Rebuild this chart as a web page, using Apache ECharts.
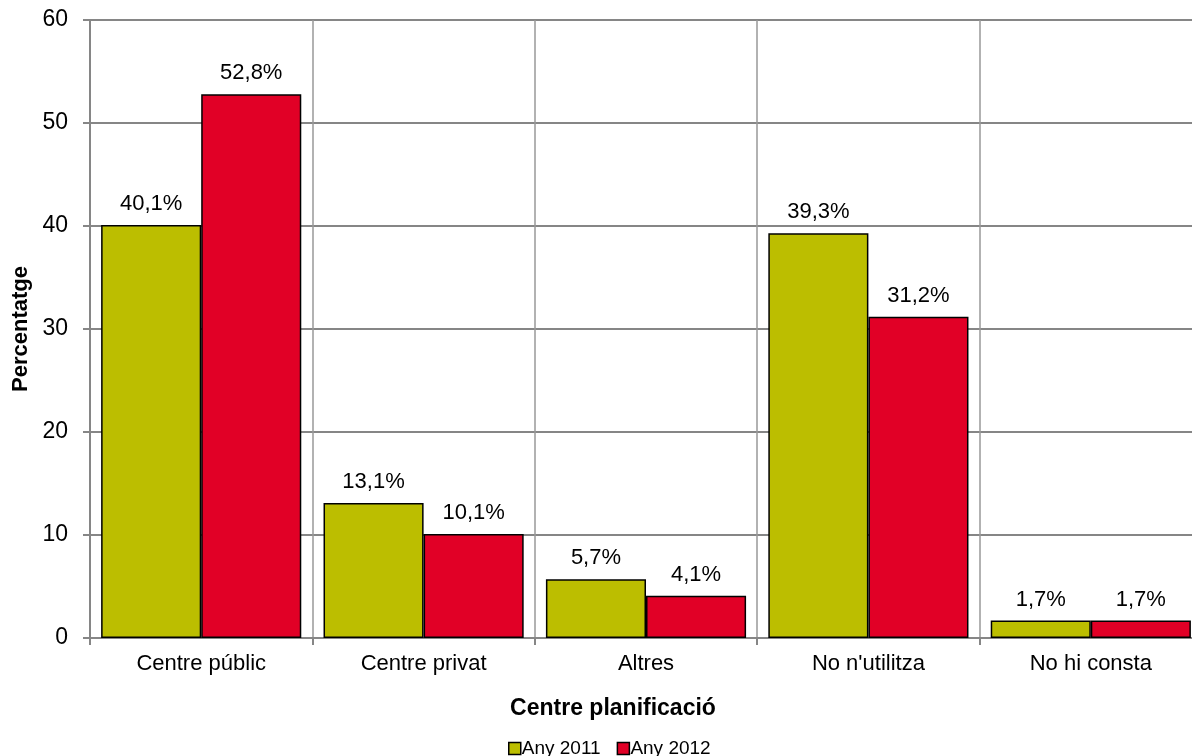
<!DOCTYPE html>
<html><head><meta charset="utf-8">
<script src="https://cdn.jsdelivr.net/npm/echarts@6/dist/echarts.min.js"></script>
<style>html,body{margin:0;padding:0;background:#fff;overflow:hidden;width:1192px;height:756px}#c{width:1202px;height:756px}</style>
</head><body><div id="c"></div>
<script>
const categories = ["Centre públic", "Centre privat", "Altres", "No n'utilitza", "No hi consta"];
const any2011 = [40.1, 13.1, 5.7, 39.3, 1.7];
const any2012 = [52.8, 10.1, 4.1, 31.2, 1.7];
const seriesNames = ["Any 2011", "Any 2012"];
const yTicks = { min: 0, max: 60, interval: 10 };

const chart = echarts.init(document.getElementById('c'), null, {renderer: 'canvas'});
const font = 'Liberation Sans, Arial, sans-serif';
const lbl = {
  show: true, position: 'top', distance: 10, color: '#000', fontFamily: font, fontSize: 22,
  formatter: p => p.value.toFixed(1).replace('.', ',') + '%'
};
chart.setOption({
  animation: false,
  textStyle: {fontFamily: font},
  grid: {left: 90, right: 0, top: 20, height: 618, containLabel: false},
  title: {
    text: 'Centre planificació', left: 608, top: 692, textAlign: 'center',
    textStyle: {fontFamily: font, fontSize: 23, fontWeight: 'bold', color: '#000'}
  },
  legend: {
    data: seriesNames, left: 503, top: 734, itemWidth: 12, itemHeight: 12, itemGap: 16,
    icon: 'rect',
    textStyle: {fontFamily: font, fontSize: 19, color: '#000', padding: [0, 0, 0, -4]},
    itemStyle: {borderColor: '#000', borderWidth: 1.5}
  },
  xAxis: {
    type: 'category', data: categories,
    axisLine: {lineStyle: {color: '#868686', width: 2}},
    axisTick: {show: true, length: 7, lineStyle: {color: '#868686', width: 2}},
    splitLine: {show: true, lineStyle: {color: '#999', width: 1.5}},
    axisLabel: {color: '#000', fontSize: 22, fontFamily: font, margin: 15}
  },
  yAxis: {
    type: 'value', min: yTicks.min, max: yTicks.max, interval: yTicks.interval,
    name: 'Percentatge', nameLocation: 'middle', nameGap: 58,
    nameTextStyle: {fontFamily: font, fontSize: 22, fontWeight: 'bold', color: '#000'},
    axisLine: {show: true, lineStyle: {color: '#868686', width: 2}},
    axisTick: {show: true, length: 7, lineStyle: {color: '#868686', width: 2}},
    splitLine: {show: true, lineStyle: {color: '#868686', width: 2}},
    axisLabel: {color: '#000', fontSize: 23, fontFamily: font, margin: 22}
  },
  series: [
    {name: seriesNames[0], type: 'bar', data: any2011, barGap: '0%', barCategoryGap: '10%',
     itemStyle: {color: '#BCBE00', borderColor: '#000', borderWidth: 1.5}, label: lbl},
    {name: seriesNames[1], type: 'bar', data: any2012,
     itemStyle: {color: '#E10026', borderColor: '#000', borderWidth: 1.5}, label: lbl}
  ]
});
</script></body></html>
